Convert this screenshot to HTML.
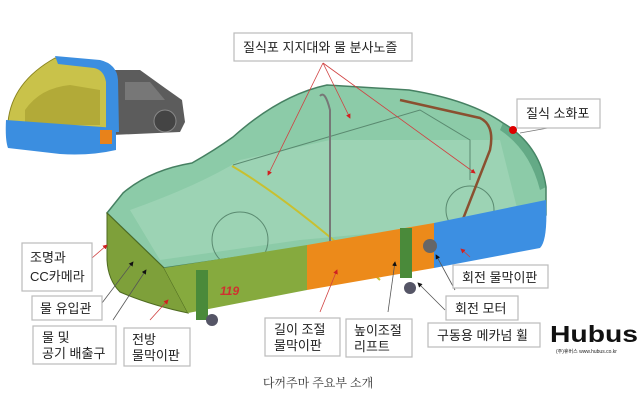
<!DOCTYPE html>
<html><head><meta charset="utf-8"><style>
html,body{margin:0;padding:0;background:#fff;width:640px;height:414px;overflow:hidden}
svg{display:block}
.t{font-family:"Liberation Sans","Noto Sans CJK KR",sans-serif;font-size:13px;fill:#222}
.b{fill:#fff;stroke:#bbb;stroke-width:1.2}
</style></head><body>
<svg width="640" height="414" viewBox="0 0 640 414" xmlns="http://www.w3.org/2000/svg">
<defs><marker id="a" markerWidth="6" markerHeight="6" refX="5" refY="3" orient="auto"><path d="M0 0 L6 3 L0 6 Z" fill="#d02020"/></marker>
<marker id="k" markerWidth="6" markerHeight="6" refX="5" refY="3" orient="auto"><path d="M0 0 L6 3 L0 6 Z" fill="#111"/></marker></defs>
<!-- inset vehicle -->
<path d="M112 70 L140 70 L165 88 L182 100 L185 122 L180 132 L112 135 Z" fill="#5c5c5c"/>
<path d="M125 82 L150 82 L165 100 L125 100 Z" fill="#777"/>
<circle cx="165" cy="121" r="11" fill="#444" stroke="#888"/>
<path d="M8 122 Q12 82 55 58 L100 62 L108 78 L108 128 L8 128 Z" fill="#c9c24a" stroke="#8a8420"/>
<path d="M25 110 Q40 88 70 85 L100 90 L100 125 L25 125 Z" fill="#a8a030" opacity="0.7"/>
<path d="M55 56 L100 60 Q117 64 118 80 L119 132 L106 132 L106 82 Q104 70 94 68 L58 64 Z" fill="#3b8ee0"/>
<path d="M6 120 L116 128 L116 150 Q90 156 60 154 L8 148 Q5 140 6 120 Z" fill="#3b8ee0"/>
<rect x="100" y="130" width="12" height="14" fill="#e8821a"/>
<!-- main canopy -->
<path d="M107 213 L123 193 Q150 170 192 163 Q215 150 233 137 Q280 95 327 85 L409 90 Q470 100 503 123 Q540 145 546 187 L546 215 L434 225 L307 247 L164 268 Z" fill="#86c9a4" stroke="#3d7a5a" stroke-width="1.5" opacity="0.95"/>
<path d="M130 210 Q200 185 240 160 L330 140 L500 140 L520 220 L300 240 L160 260 Z" fill="#a6d8bc" opacity="0.6"/>
<circle cx="240" cy="240" r="28" fill="none" stroke="#5a8a70"/>
<circle cx="470" cy="210" r="24" fill="none" stroke="#5a8a70"/>
<path d="M233 165 L420 110 L470 140 L470 180" fill="none" stroke="#5a8a70"/>
<path d="M500 130 Q530 150 540 190 L546 187 Q540 145 503 123 Z" fill="#4a9470" opacity="0.6"/>
<!-- support lines -->
<path d="M232 166 Q290 200 380 280" stroke="#c8c030" stroke-width="2" fill="none"/>
<path d="M320 96 Q325 90 330 110 L330 270" stroke="#777" stroke-width="2" fill="none"/>
<path d="M400 100 L480 118 Q495 125 490 150 L445 265" stroke="#8a5030" stroke-width="2.5" fill="none"/>
<circle cx="513" cy="130" r="4" fill="#d00"/>
<!-- base -->
<path d="M107 213 L164 268 L188 313 Q150 305 120 292 Q108 280 107 260 Z" fill="#7ea03a" stroke="#4e6a20"/>
<path d="M164 268 L307 245 L307 290 L188 313 Z" fill="#86aa3e"/>
<path d="M307 245 L434 223 L434 268 L307 290 Z" fill="#ec8a1a"/>
<path d="M434 223 L546 200 Q548 240 540 248 L434 268 Z" fill="#3c8fe2"/>
<text x="220" y="295" font-family="Liberation Sans" font-size="12" font-weight="bold" font-style="italic" fill="#d03030">119</text>
<rect x="196" y="270" width="12" height="50" fill="#4a8a3a"/>
<rect x="400" y="228" width="12" height="50" fill="#4a8a3a"/>
<circle cx="212" cy="320" r="6" fill="#556"/><circle cx="410" cy="288" r="6" fill="#556"/>
<circle cx="430" cy="246" r="7" fill="#666"/>
<!-- leader lines -->
<g stroke="#d04040" stroke-width="0.8" fill="none" marker-end="url(#a)">
<path d="M323 63 L268 175"/><path d="M323 63 L350 118"/><path d="M323 63 L475 173"/>
<path d="M92 258 L107 245"/><path d="M150 320 L168 300"/><path d="M320 312 L337 270"/>
</g>
<g stroke="#555" stroke-width="0.8" fill="none" marker-end="url(#k)">
<path d="M102 303 L133 262"/><path d="M113 320 L146 270"/><path d="M388 312 L395 262"/><path d="M445 310 L418 283"/><path d="M455 290 L436 255"/>
</g>
<path d="M548 128 L520 133" stroke="#777" stroke-width="0.8"/>
<path d="M470 257 L461 249" stroke="#d04040" stroke-width="0.8" marker-end="url(#a)"/>
<!-- labels -->
<rect class="b" x="234" y="33" width="178" height="28"/><text class="t" x="243" y="52">질식포 지지대와 물 분사노즐</text>
<rect class="b" x="517" y="99" width="83" height="29"/><text class="t" x="526" y="118">질식 소화포</text>
<rect class="b" x="22" y="243" width="70" height="48"/><text class="t" x="30" y="262">조명과</text><text class="t" x="30" y="281">CC카메라</text>
<rect class="b" x="32" y="296" width="70" height="24"/><text class="t" x="40" y="313">물 유입관</text>
<rect class="b" x="33" y="326" width="83" height="38"/><text class="t" x="42" y="342">물 및</text><text class="t" x="42" y="358">공기 배출구</text>
<rect class="b" x="124" y="328" width="66" height="38"/><text class="t" x="132" y="344">전방</text><text class="t" x="132" y="360">물막이판</text>
<rect class="b" x="265" y="318" width="75" height="38"/><text class="t" x="274" y="334">길이 조절</text><text class="t" x="274" y="350">물막이판</text>
<rect class="b" x="346" y="319" width="66" height="38"/><text class="t" x="354" y="335">높이조절</text><text class="t" x="354" y="351">리프트</text>
<rect class="b" x="428" y="323" width="112" height="24"/><text class="t" x="437" y="340">구동용 메카넘 휠</text>
<rect class="b" x="446" y="296" width="72" height="24"/><text class="t" x="455" y="313">회전 모터</text>
<rect class="b" x="453" y="265" width="95" height="23"/><text class="t" x="462" y="282">회전 물막이판</text>
<!-- logo -->
<text x="550" y="342" font-family="Liberation Sans" font-size="23" font-weight="bold" fill="#111" textLength="88" lengthAdjust="spacingAndGlyphs">Hubus</text>
<text x="556" y="353" font-family="Liberation Sans" font-size="5" fill="#222">(주)휴버스 www.hubus.co.kr</text>
<text x="318" y="387" text-anchor="middle" font-family="Liberation Serif,'Noto Serif CJK SC',serif" font-size="12" fill="#333">다꺼주마 주요부 소개</text>
</svg>
</body></html>
